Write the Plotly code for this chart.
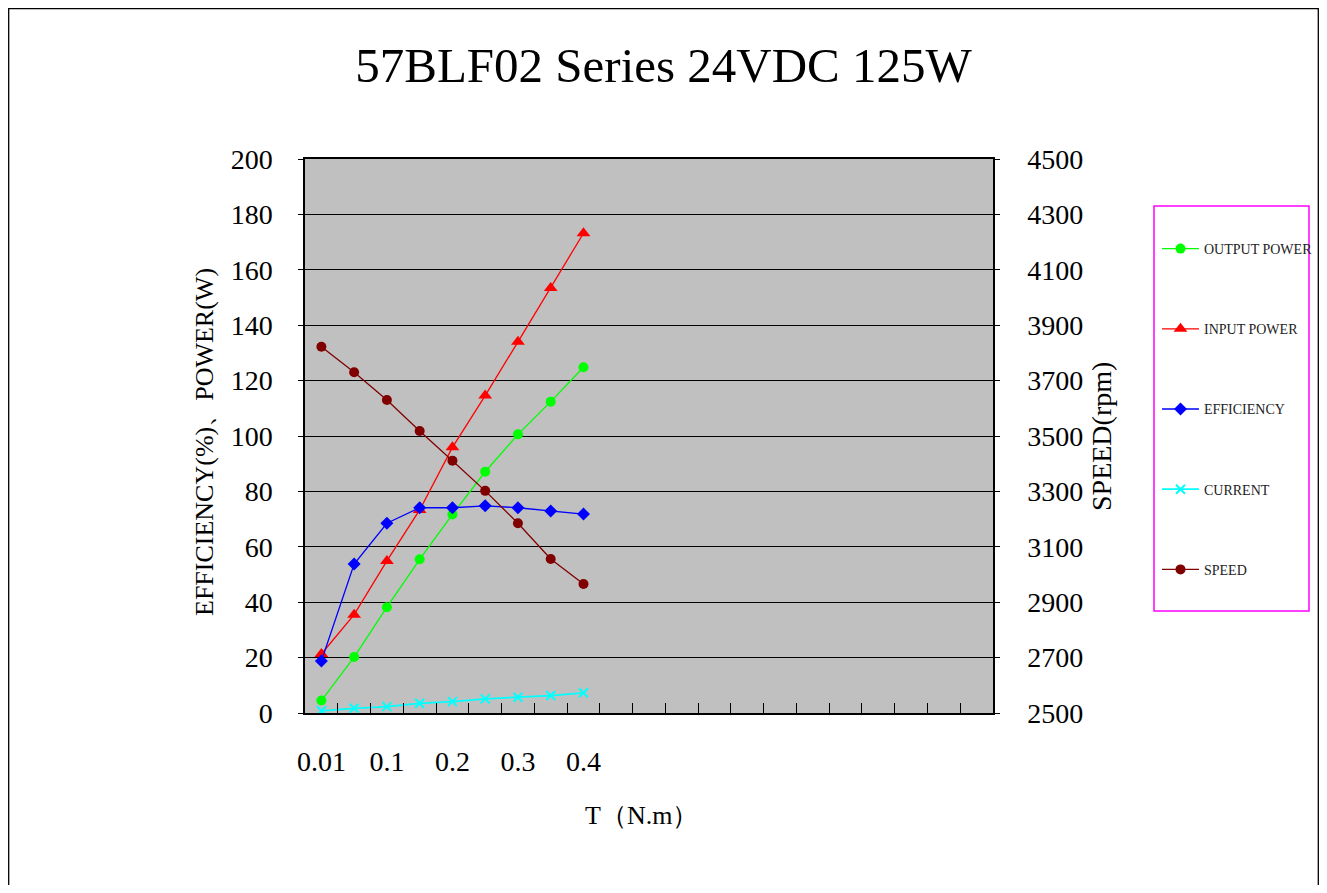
import plotly.graph_objects as go

# ---- data ----
torque_labels = ["0.01", "0.05", "0.1", "0.15", "0.2", "0.25", "0.3", "0.35", "0.4"]
n_slots = 21
output_power = [4.5, 20.2, 38.2, 55.5, 71.7, 87.1, 100.6, 112.4, 124.8]
input_power = [21.3, 35.5, 54.9, 73.3, 95.9, 114.6, 134.0, 153.4, 173.2]
efficiency = [18.8, 53.8, 68.5, 74.1, 74.1, 74.8, 74.1, 72.9, 71.8]
current = [0.8, 1.7, 2.3, 3.5, 4.1, 5.1, 5.7, 6.3, 7.3]
speed = [3822, 3730, 3630, 3518, 3411, 3302, 3185, 3056, 2966]

xs = list(range(len(torque_labels)))
FONT = "Liberation Serif"

fig = go.Figure()
fig.add_trace(go.Scatter(x=xs, y=output_power, name="OUTPUT POWER", mode="lines+markers",
                         line=dict(color="#00FF00", width=1.3),
                         marker=dict(symbol="circle", size=10, color="#00FF00"), legendgroup="a"))
fig.add_trace(go.Scatter(x=xs, y=input_power, name="INPUT POWER", mode="lines+markers",
                         line=dict(color="#FF0000", width=1.3),
                         marker=dict(symbol="triangle-up", size=12, color="#FF0000"), legendgroup="b"))
fig.add_trace(go.Scatter(x=xs, y=efficiency, name="EFFICIENCY", mode="lines+markers",
                         line=dict(color="#0000FF", width=1.3),
                         marker=dict(symbol="diamond", size=10, color="#0000FF"), legendgroup="c"))
fig.add_trace(go.Scatter(x=xs, y=current, name="CURRENT", mode="lines+markers",
                         line=dict(color="#00FFFF", width=1.8),
                         marker=dict(symbol="x-thin-open", size=9, color="#00FFFF",
                                     line=dict(color="#00FFFF", width=2)), legendgroup="d"))
fig.add_trace(go.Scatter(x=xs, y=speed, name="SPEED", mode="lines+markers", yaxis="y2",
                         line=dict(color="#800000", width=1.3),
                         marker=dict(symbol="circle", size=10, color="#800000"), legendgroup="e"))

OFF = 8  # page body margin
W, H = 1327 - 2 * OFF, 893 - 2 * OFF
L, R, T, B = 305 - OFF, 993 - OFF, 159 - OFF, 713 - OFF
pw, ph = R - L, B - T


def px_x(px):
    return (px - OFF - L) / pw


def px_y(py):
    return (B - (py - OFF)) / ph


fig.update_layout(
    width=W, height=H,
    margin=dict(l=L, r=W - R, t=T, b=H - B),
    template="none",
    paper_bgcolor="white",
    plot_bgcolor="#C0C0C0",
    font=dict(family=FONT, color="black", size=28),
    title=dict(text="57BLF02 Series 24VDC 125W", x=0.5, xanchor="center",
               y=1 - (65 - OFF) / H, yanchor="middle",
               font=dict(family=FONT, size=49, color="black")),
    xaxis=dict(range=[-0.5, n_slots - 0.5], showgrid=False, zeroline=False,
               tickmode="array", tickvals=xs[::2], ticktext=torque_labels[::2],
               ticks="", ticklabelstandoff=23,
               showline=True, linecolor="black", linewidth=1.5, mirror=True,
               minor=dict(tickmode="array", tickvals=[i + 0.5 for i in range(n_slots - 1)],
                          ticks="inside", ticklen=10, tickcolor="black", tickwidth=1.3,
                          showgrid=False),
               tickfont=dict(size=28)),
    yaxis=dict(range=[0, 200], dtick=20, tick0=0, showgrid=True, gridcolor="black",
               gridwidth=1.3, zeroline=False, ticks="outside", ticklen=5,
               tickcolor="black", ticklabelstandoff=20,
               showline=True, linecolor="black", linewidth=1.5, mirror=True,
               tickfont=dict(size=28)),
    yaxis2=dict(range=[2500, 4500], dtick=200, tick0=2500, overlaying="y", side="right",
                showgrid=False, zeroline=False, ticks="outside", ticklen=5,
                tickcolor="black", ticklabelstandoff=22, showline=True,
                linecolor="black", linewidth=1.5,
                tickfont=dict(size=28)),
    showlegend=True,
    legend=dict(xref="container", yref="container",
                x=(1157 - OFF) / W, y=1 - (233 - OFF) / H, xanchor="left", yanchor="top",
                bgcolor="rgba(0,0,0,0)", borderwidth=0,
                font=dict(family=FONT, size=14, color="#222222"),
                tracegroupgap=59, itemwidth=37),
    annotations=[
        dict(text="EFFICIENCY(%)、POWER(W)", textangle=-90, xref="paper", yref="paper",
             x=px_x(205), y=px_y(442), xanchor="center", yanchor="middle",
             showarrow=False, font=dict(family=FONT, size=26, color="black")),
        dict(text="SPEED(rpm)", textangle=-90, xref="paper", yref="paper",
             x=px_x(1101), y=px_y(437), xanchor="center", yanchor="middle",
             showarrow=False, font=dict(family=FONT, size=28, color="black")),
        dict(text="T（N.m）", xref="paper", yref="paper",
             x=px_x(641), y=px_y(815), xanchor="center", yanchor="middle",
             showarrow=False, font=dict(family=FONT, size=26, color="black")),
    ],
    shapes=[
        dict(type="rect", xref="paper", yref="paper",
             x0=px_x(8.7), x1=px_x(OFF + W - 0.7), y0=px_y(OFF + H + 20), y1=px_y(OFF + 0.7),
             line=dict(color="black", width=1.3), fillcolor="rgba(0,0,0,0)", layer="below"),
        dict(type="rect", xref="paper", yref="paper",
             x0=px_x(1154), x1=px_x(1309), y0=px_y(611), y1=px_y(206),
             line=dict(color="#FF00FF", width=1.5), fillcolor="rgba(0,0,0,0)"),
    ],
)

fig.write_html("out.html")
